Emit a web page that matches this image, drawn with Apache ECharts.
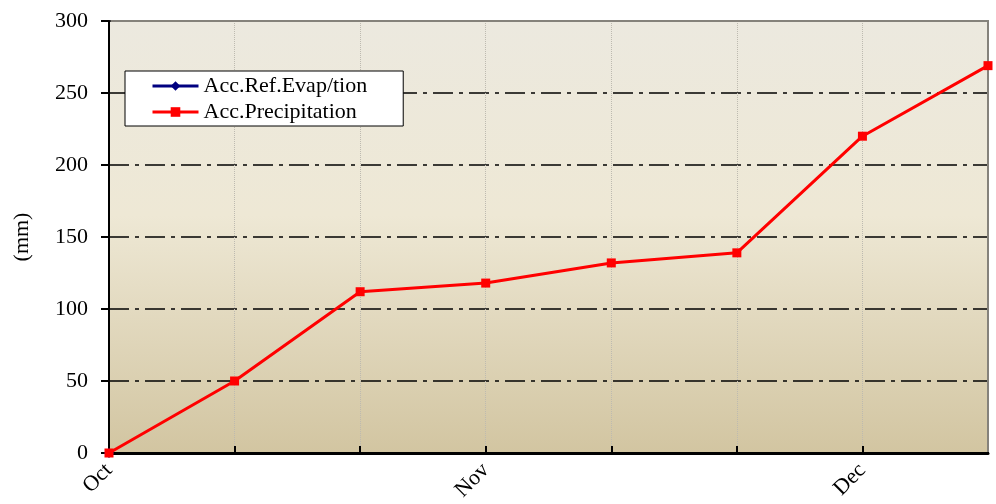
<!DOCTYPE html>
<html>
<head>
<meta charset="utf-8">
<script src="https://cdn.jsdelivr.net/npm/echarts@6/dist/echarts.min.js"></script>
<style>
  html, body { margin: 0; padding: 0; background: #fff; }
  #chart { width: 996px; height: 504px; }
</style>
</head>
<body>
<div id="chart"></div>
<script>
    // categories (only month starts are labelled)
    var categories = ['Oct', '', '', 'Nov', '', '', 'Dec', '']
    var evapValues = [0, null, null, null, null, null, null, null]
    var precipValues = [0, 50, 112, 118, 132, 139, 220, 269]
    var yTicks = [0, 50, 100, 150, 200, 250, 300]

    var font = 'Liberation Serif'
    var chart = echarts.init(document.getElementById('chart'))

    var option = {
        animation: false,
        textStyle: {fontFamily: font},
        grid: {left: 109, right: 8, top: 21, bottom: 51, show: true, borderWidth: 0,
            backgroundColor: new echarts.graphic.LinearGradient(0, 0, 0, 1, [
                {offset: 0, color: '#ECE9DF'},
                {offset: 0.45, color: '#EEE8D5'},
                {offset: 1, color: '#D2C5A1'}
            ])
        },
        legend: {
            orient: 'vertical', left: 125, top: 71,
            backgroundColor: '#fff', borderColor: '#000', borderWidth: 1,
            padding: [4, 36, 3, 26], itemGap: 4, itemWidth: 46, itemHeight: 12,
            lineStyle: {width: 3},
            textStyle: {fontFamily: font, fontSize: 22, color: '#000'},
            data: ['Acc.Ref.Evap/tion', 'Acc.Precipitation']
        },
        xAxis: {
            type: 'category', boundaryGap: false, data: categories,
            axisLine: {lineStyle: {color: '#000', width: 3}},
            axisTick: {inside: true, length: 7, interval: 0, lineStyle: {color: '#000', width: 2}},
            axisLabel: {interval: 0, rotate: 45, margin: 14, fontFamily: font, fontSize: 22, color: '#000'},
            splitLine: {show: true, interval: 0, lineStyle: {color: '#BDBAB0', type: 'dotted', width: 1}}
        },
        yAxis: {
            type: 'value', min: yTicks[0], max: yTicks[yTicks.length - 1], interval: 50,
            name: '(mm)', nameLocation: 'middle', nameGap: 76, nameRotate: 90,
            nameTextStyle: {fontFamily: font, fontSize: 22, color: '#000'},
            axisLine: {show: true, lineStyle: {color: '#000', width: 2}},
            axisTick: {show: true, length: 8, lineStyle: {color: '#000', width: 2}},
            axisLabel: {margin: 21, fontFamily: font, fontSize: 22, color: '#000'},
            splitLine: {show: true, lineStyle: {color: '#000', width: 1.5, type: [20, 6, 4, 6]}}
        },
        series: [
            {
                name: 'Acc.Ref.Evap/tion', type: 'line', data: evapValues,
                symbol: 'diamond', symbolSize: 10,
                itemStyle: {color: '#000080'}, lineStyle: {color: '#000080', width: 3}
            },
            {
                name: 'Acc.Precipitation', type: 'line', data: precipValues,
                symbol: 'rect', symbolSize: 9,
                itemStyle: {color: '#FF0000'}, lineStyle: {color: '#FF0000', width: 3}
            }
        ],
        graphic: [
            // gray top and right edges of the plot area
            {type: 'polyline', silent: true, z: 1,
                shape: {points: [[111, 21], [988, 21], [988, 452]]},
                style: {fill: null, stroke: '#85827B', lineWidth: 2}}
        ]
    }
    chart.setOption(option)
</script>
</body>
</html>
